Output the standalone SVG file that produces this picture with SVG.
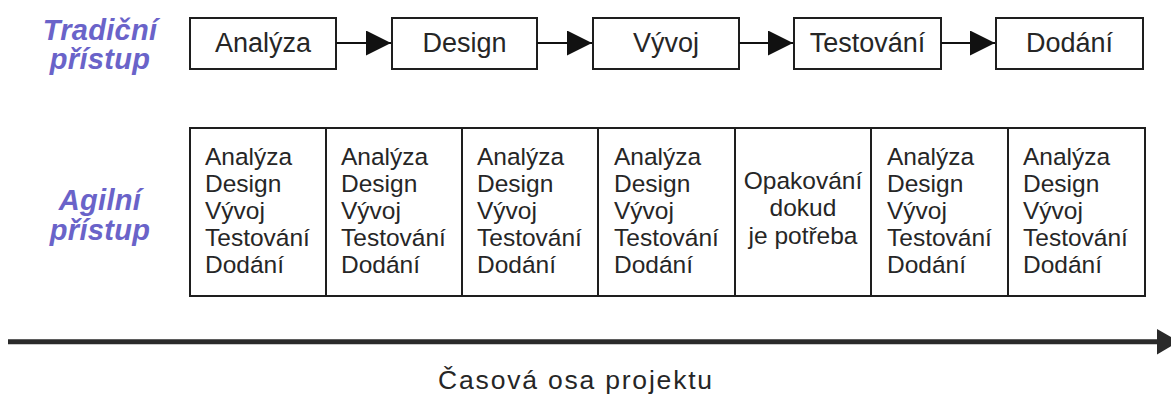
<svg xmlns="http://www.w3.org/2000/svg" width="1171" height="396" viewBox="0 0 1171 396">
  <style>
    .box { fill: #ffffff; stroke: #1e1e1e; stroke-width: 2; }
    .step { font-family: "Liberation Sans", Arial, sans-serif; font-size: 27px; fill: #262626; text-anchor: middle; }
    .cell { font-family: "Liberation Sans", Arial, sans-serif; font-size: 24.5px; fill: #262626; }
    .side { font-family: "Liberation Sans", Arial, sans-serif; font-size: 29px; font-weight: bold; font-style: italic; fill: #6a63c9; text-anchor: middle; letter-spacing: 0.3px; }
    .link { stroke: #111111; stroke-width: 2; fill: none; }
    .axis { stroke: #2a2a2a; stroke-width: 5; fill: none; }
  </style>
  <defs>
    <marker id="tri" viewBox="0 0 25 25" refX="25" refY="12.5" markerWidth="25" markerHeight="25" markerUnits="userSpaceOnUse" orient="auto">
      <path d="M0,0 L25,12.5 L0,25 Z" fill="#111111"/>
    </marker>
  </defs>
  <rect width="1171" height="396" fill="#ffffff"/>

  <!-- row captions -->
  <g id="label-traditional">
    <text class="side" x="100" y="40">Tradiční</text>
    <text class="side" x="100" y="69">přístup</text>
  </g>
  <g id="label-agile">
    <text class="side" x="100" y="210">Agilní</text>
    <text class="side" x="100" y="240">přístup</text>
  </g>

  <!-- sequential phases -->
  <g id="phase-analyza">
    <rect class="box" x="190" y="18" width="146" height="51"/>
    <text class="step" x="263" y="52">Analýza</text>
  </g>
  <g id="phase-design">
    <rect class="box" x="392" y="18" width="145" height="51"/>
    <text class="step" x="464.5" y="52">Design</text>
  </g>
  <g id="phase-vyvoj">
    <rect class="box" x="593" y="18" width="146" height="51"/>
    <text class="step" x="666" y="52">Vývoj</text>
  </g>
  <g id="phase-testovani">
    <rect class="box" x="794" y="18" width="147" height="51"/>
    <text class="step" x="867.5" y="52">Testování</text>
  </g>
  <g id="phase-dodani">
    <rect class="box" x="996" y="18" width="147" height="51"/>
    <text class="step" x="1069.5" y="52">Dodání</text>
  </g>

  <!-- connectors between phases -->
  <g id="connectors">
    <line class="link" x1="336" y1="43" x2="391" y2="43" marker-end="url(#tri)"/>
    <line class="link" x1="537" y1="43" x2="592" y2="43" marker-end="url(#tri)"/>
    <line class="link" x1="739" y1="43" x2="793" y2="43" marker-end="url(#tri)"/>
    <line class="link" x1="941" y1="43" x2="995" y2="43" marker-end="url(#tri)"/>
  </g>

  <!-- iterations -->
  <g id="iteration-1">
    <rect class="box" x="190" y="128" width="136" height="168"/>
    <text class="cell"><tspan x="205" y="165">Analýza</tspan><tspan x="205" y="192">Design</tspan><tspan x="205" y="219">Vývoj</tspan><tspan x="205" y="246">Testování</tspan><tspan x="205" y="273">Dodání</tspan></text>
  </g>
  <g id="iteration-2">
    <rect class="box" x="326" y="128" width="136" height="168"/>
    <text class="cell"><tspan x="341" y="165">Analýza</tspan><tspan x="341" y="192">Design</tspan><tspan x="341" y="219">Vývoj</tspan><tspan x="341" y="246">Testování</tspan><tspan x="341" y="273">Dodání</tspan></text>
  </g>
  <g id="iteration-3">
    <rect class="box" x="462" y="128" width="136" height="168"/>
    <text class="cell"><tspan x="477" y="165">Analýza</tspan><tspan x="477" y="192">Design</tspan><tspan x="477" y="219">Vývoj</tspan><tspan x="477" y="246">Testování</tspan><tspan x="477" y="273">Dodání</tspan></text>
  </g>
  <g id="iteration-4">
    <rect class="box" x="598" y="128" width="137" height="168"/>
    <text class="cell"><tspan x="614" y="165">Analýza</tspan><tspan x="614" y="192">Design</tspan><tspan x="614" y="219">Vývoj</tspan><tspan x="614" y="246">Testování</tspan><tspan x="614" y="273">Dodání</tspan></text>
  </g>
  <g id="iteration-repeat">
    <rect class="box" x="735" y="128" width="136" height="168"/>
    <text class="cell" text-anchor="middle"><tspan x="803" y="188.5">Opakování</tspan><tspan x="803" y="216">dokud</tspan><tspan x="803" y="243.5">je potřeba</tspan></text>
  </g>
  <g id="iteration-5">
    <rect class="box" x="871" y="128" width="137" height="168"/>
    <text class="cell"><tspan x="887" y="165">Analýza</tspan><tspan x="887" y="192">Design</tspan><tspan x="887" y="219">Vývoj</tspan><tspan x="887" y="246">Testování</tspan><tspan x="887" y="273">Dodání</tspan></text>
  </g>
  <g id="iteration-6">
    <rect class="box" x="1008" y="128" width="137" height="168"/>
    <text class="cell"><tspan x="1023" y="165">Analýza</tspan><tspan x="1023" y="192">Design</tspan><tspan x="1023" y="219">Vývoj</tspan><tspan x="1023" y="246">Testování</tspan><tspan x="1023" y="273">Dodání</tspan></text>
  </g>

  <!-- project timeline -->
  <g id="timeline">
    <line class="axis" x1="8" y1="341.7" x2="1158" y2="341.7"/>
    <path d="M1157,329 L1179,341.7 L1157,354.4 Z" fill="#2a2a2a"/>
    <text x="576" y="389" font-family="'Liberation Sans', Arial, sans-serif" font-size="26.5" fill="#262626" text-anchor="middle" letter-spacing="1.8">Časová osa projektu</text>
  </g>
</svg>
